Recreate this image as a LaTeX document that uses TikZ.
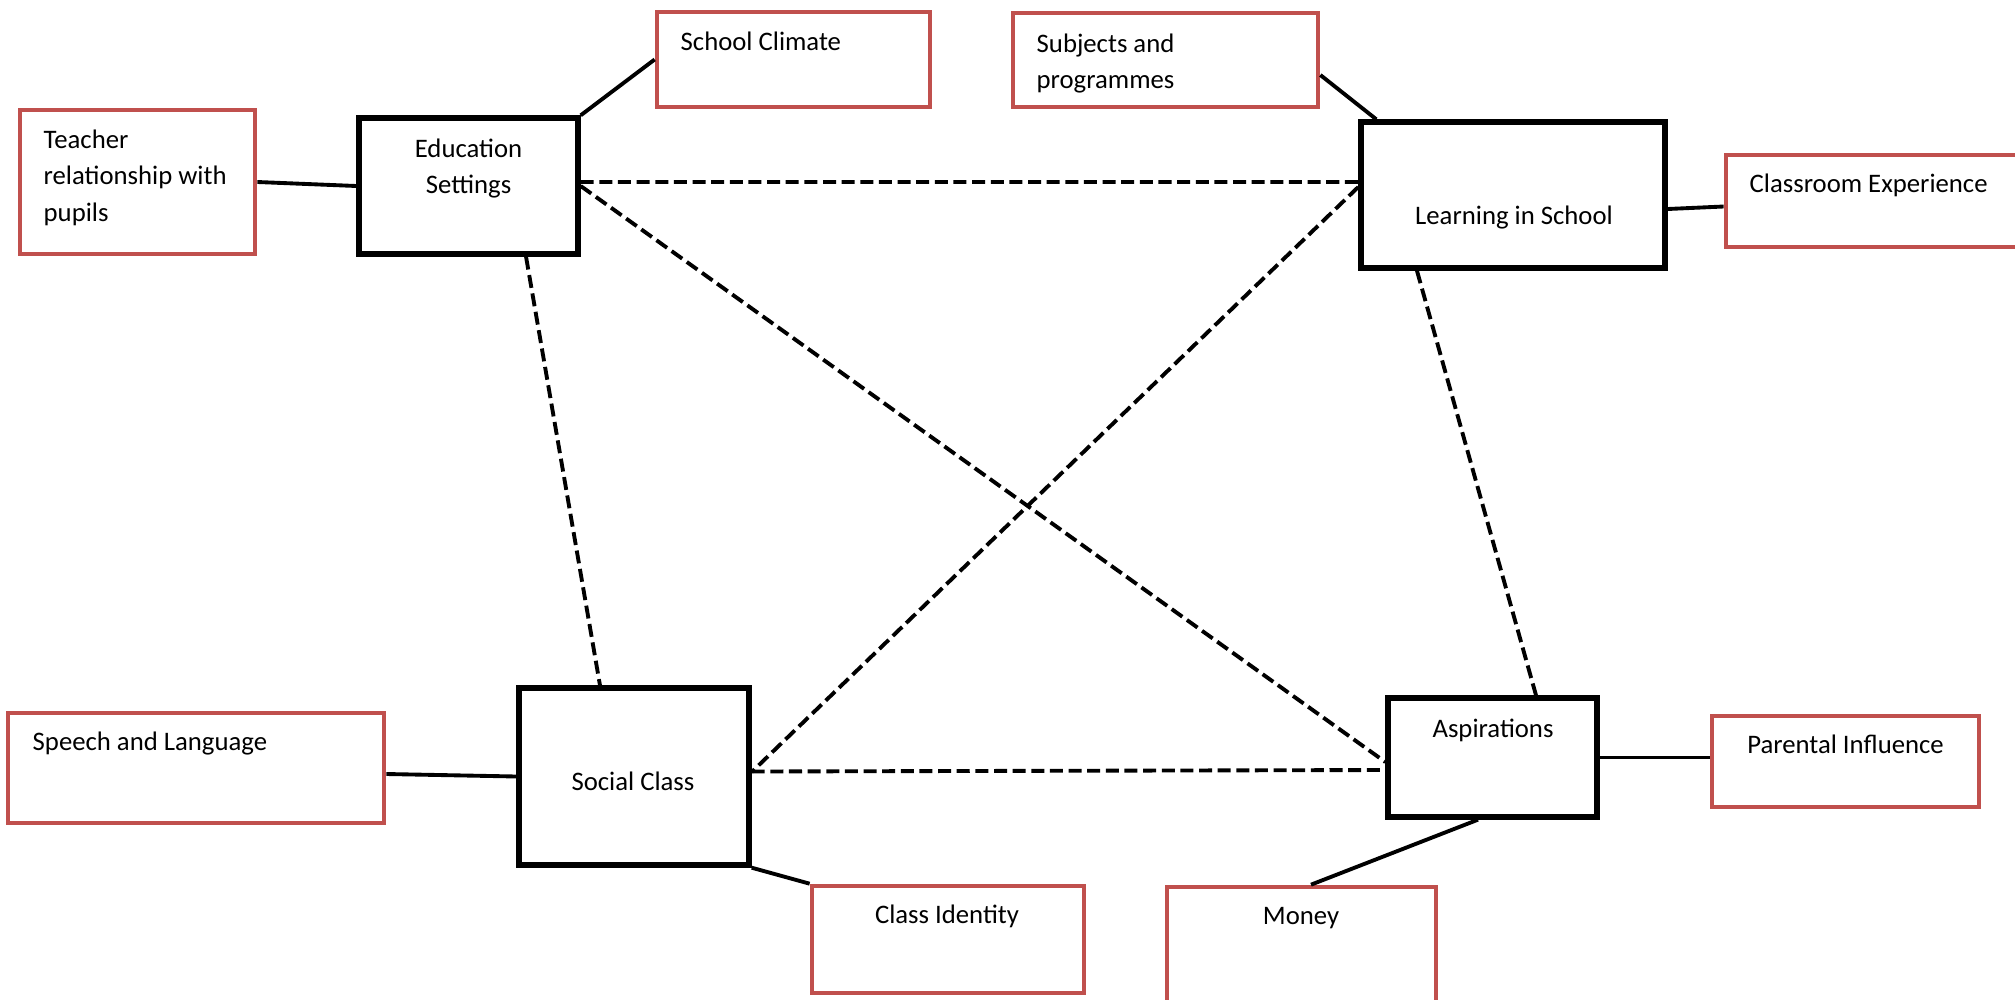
\documentclass[tikz,border=0pt]{standalone}
\usepackage{fontspec}
\setmainfont{Carlito}
\usepackage{tikz}
\definecolor{boxred}{RGB}{192,80,77}
\newcommand{\diagfont}{\fontsize{7.6pt}{10.5pt}\selectfont}
\tikzstyle{main_box} = [
    rectangle,
    draw=black,
    fill=white,
    line width=1.5pt,
    inner sep=0pt
]
\tikzstyle{red_box} = [
    rectangle,
    draw=boxred,
    fill=white,
    line width=1.3pt,
    inner sep=0pt
]
\tikzstyle{txt_left} = [
    anchor=base west,
    align=flush left,
    inner sep=0pt,
    font=\diagfont
]
\tikzstyle{txt_mid} = [
    anchor=base,
    align=flush center,
    inner sep=0pt,
    font=\diagfont
]
\tikzstyle{link} = [
    draw=black,
    line width=1.1pt
]
\tikzstyle{dash_link} = [
    draw=black,
    line width=1.1pt,
    dash pattern=on 3.7pt off 1.6pt
]

\begin{document}
\begin{tikzpicture}[x=0.01cm, y=-0.01cm]
\useasboundingbox (0,0) rectangle (2015,1000);

% main themes
\node [main_box, minimum width=2.19cm, minimum height=1.36cm] (edu) at (468.5,186) {};
\node [main_box, minimum width=3.04cm, minimum height=1.46cm] (lrn) at (1513,195) {};
\node [main_box, minimum width=2.30cm, minimum height=1.77cm] (soc) at (634,776.5) {};
\node [main_box, minimum width=2.09cm, minimum height=1.19cm] (asp) at (1492.5,757.5) {};

% sub themes
\node [red_box, minimum width=2.35cm, minimum height=1.44cm] (tch) at (137.5,182) {};
\node [red_box, minimum width=2.73cm, minimum height=0.95cm] (scl) at (793.5,59.5) {};
\node [red_box, minimum width=3.05cm, minimum height=0.94cm] (sub) at (1165.5,60) {};
\node [red_box, minimum width=3.04cm, minimum height=0.92cm] (cls) at (1878,201) {};
\node [red_box, minimum width=3.76cm, minimum height=1.10cm] (spl) at (196,768) {};
\node [red_box, minimum width=2.72cm, minimum height=1.07cm] (cid) at (948,939.5) {};
\node [red_box, minimum width=2.67cm, minimum height=0.91cm] (par) at (1845.5,761.5) {};
\node [red_box, minimum width=2.69cm, minimum height=1.23cm] (mon) at (1301.5,948.5) {};

% texts
\node [txt_mid, text width=2cm] (edu_txt) at (468.5,157) {Education\\Settings};
\node [txt_mid] (lrn_txt) at (1514,224) {Learning in School};
\node [txt_mid] (soc_txt) at (633,790) {Social Class};
\node [txt_mid] (asp_txt) at (1493,737) {Aspirations};
\node [txt_left, text width=2.1cm] (tch_txt) at (43,148) {Teacher\\relationship with\\pupils};
\node [txt_left] (scl_txt) at (680,51) {School Climate};
\node [txt_left, text width=2.5cm] (sub_txt) at (1036,52) {Subjects and\\programmes};
\node [txt_left] (cls_txt) at (1749,192) {Classroom Experience};
\node [txt_left] (spl_txt) at (32,750) {Speech and Language};
\node [txt_mid] (cid_txt) at (947,923) {Class Identity};
\node [txt_mid] (par_txt) at (1845.5,753) {Parental Influence};
\node [txt_mid] (mon_txt) at (1301,924) {Money};

% solid links
\draw [link] (tch.east) -- (edu.west);
\draw [link] (scl.west) -- (edu.north east);
\draw [link] ([yshift=-0.15cm]sub.east) -- ([xshift=0.18cm]lrn.north west);
\draw [link] ([yshift=-0.14cm]lrn.east) -- ([yshift=-0.055cm]cls.west);
\draw [link] ([yshift=-0.06cm]spl.east) -- (soc.west);
\draw [link] (soc.south east) -- (cid.north west);
\draw [link] (asp.east) -- (asp.east -| par.west);
\draw [link] ([xshift=-0.145cm]asp.south) -- ([xshift=0.095cm]mon.north);

% dashed links
\draw [dash_link] ([yshift=0.04cm]edu.east) -- ([yshift=0.13cm]lrn.west);
\draw [dash_link] (edu.east) -- ([yshift=-0.045cm]asp.west);
\draw [dash_link] ([xshift=0.575cm]edu.south) -- ([xshift=-0.34cm]soc.north);
\draw [dash_link] ([yshift=0.08cm]lrn.west) -- ([yshift=0.045cm]soc.east);
\draw [dash_link] ([xshift=-0.96cm]lrn.south) -- ([xshift=0.435cm]asp.north);
\draw [dash_link] ([yshift=0.05cm]soc.east) -- ([yshift=-0.125cm]asp.west);
\end{tikzpicture}
\end{document}
